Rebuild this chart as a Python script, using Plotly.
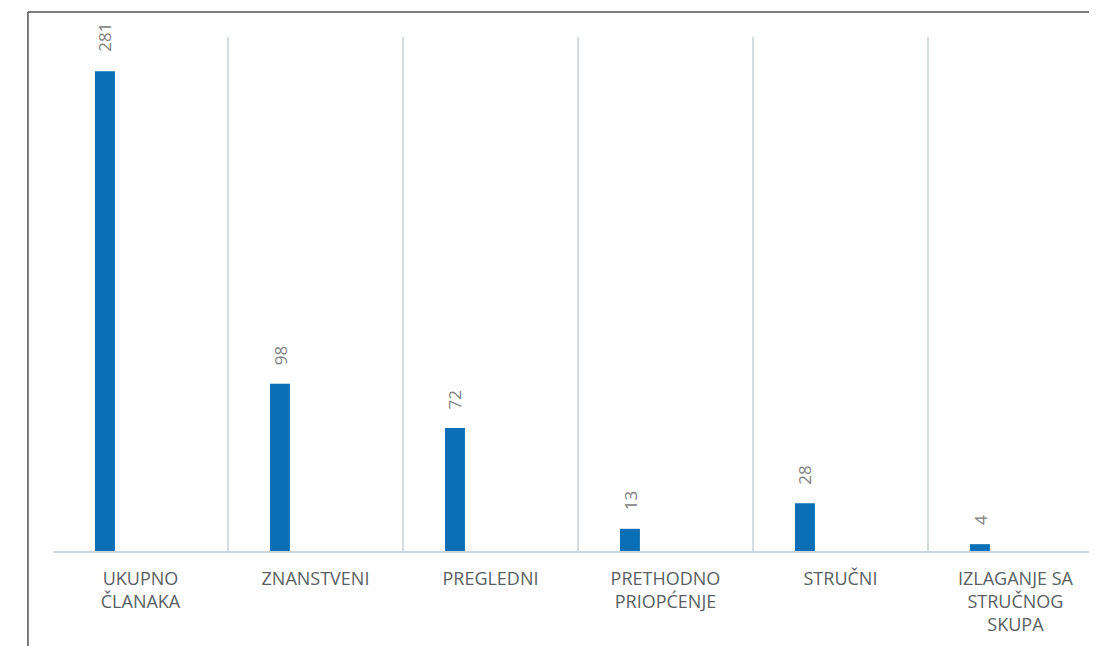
import plotly.graph_objects as go

categories = ["UKUPNO<br>ČLANAKA", "ZNANSTVENI", "PREGLEDNI",
              "PRETHODNO<br>PRIOPĆENJE", "STRUČNI", "IZLAGANJE SA<br>STRUČNOG<br>SKUPA"]
values = [281, 98, 72, 13, 28, 4]

BAR_COLOR = "#0A6FB5"

fig = go.Figure()
fig.add_trace(go.Bar(
    x=categories, y=values,
    width=0.114, offset=-0.26,
    marker=dict(color=BAR_COLOR, line=dict(width=0)),
    hoverinfo="x+y",
))

for c, v in zip(categories, values):
    fig.add_annotation(
        x=c, y=v, xref="x", yref="y",
        text=str(v), showarrow=False, textangle=-90,
        xshift=-35.5, yshift=17, yanchor="bottom", xanchor="center",
        font=dict(family="Open Sans", size=17, color="#808080"),
    )

# frame lines (top and left)
fig.add_shape(type="line", xref="paper", yref="paper",
              x0=-0.024, x1=1.02, y0=1.0486, y1=1.0486,
              line=dict(color="#505050", width=1.5))
fig.add_shape(type="line", xref="paper", yref="paper",
              x0=-0.024, x1=-0.024, y0=1.0486, y1=-0.21,
              line=dict(color="#505050", width=1.5))

fig.update_layout(
    width=1097, height=646,
    margin=dict(l=45, r=8, t=29, b=103),
    paper_bgcolor="white", plot_bgcolor="white",
    showlegend=False,
    xaxis=dict(
        type="category", tickson="boundaries",
        range=[-0.5, 5.466],
        showgrid=True, gridcolor="#D5DDE0", gridwidth=2,
        showline=True, linecolor="#CBD6DC", linewidth=2,
        ticks="", ticklen=0, ticklabelstandoff=10,
        tickfont=dict(family="Open Sans", size=18, color="#5A5F63"),
        fixedrange=True,
    ),
    yaxis=dict(
        range=[0, 301], showgrid=False, zeroline=False,
        showticklabels=False, ticks="", fixedrange=True,
    ),
)

fig.write_html("out.html")
